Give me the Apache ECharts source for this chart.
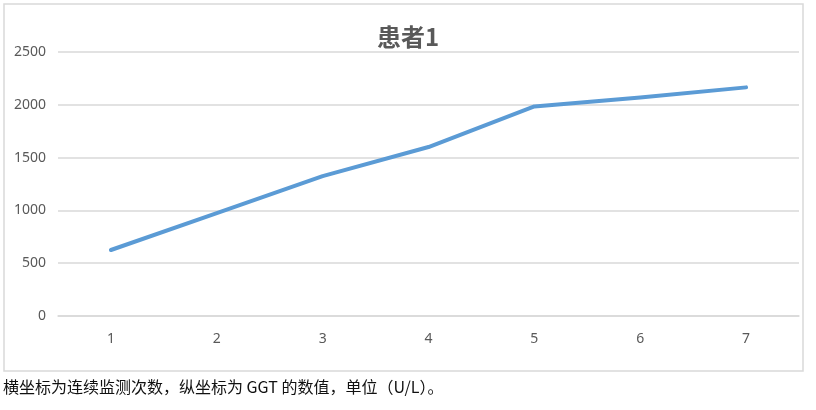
<!DOCTYPE html>
<html><head><meta charset="utf-8">
<script src="https://cdn.jsdelivr.net/npm/echarts@6/dist/echarts.min.js"></script>
<style>html,body{margin:0;padding:0;background:#fff}#c{width:816px;height:410px}</style>
</head><body><div id="c"></div>
<script>
const categories = ['1','2','3','4','5','6','7'];
const values = [625, 975, 1325, 1600, 1985, 2070, 2165];
const titleText = '患者1';
const captionText = '横坐标为连续监测次数，纵坐标为 GGT 的数值，单位（U/L）。';

const chart = echarts.init(document.getElementById('c'));
chart.setOption({
  animation: false,
  backgroundColor: '#fff',
  title: {
    text: titleText, left: 403, top: 20, textAlign: 'center',
    textStyle: {fontFamily: 'Noto Sans CJK SC', fontSize: 24, fontWeight: 'bold', color: '#595959'}
  },
  grid: {left: 58, right: 17, top: 52, bottom: 94},
  xAxis: {
    type: 'category', data: categories, boundaryGap: true,
    axisLine: {lineStyle: {color: '#d9d9d9', width: 1.5}},
    axisTick: {show: false},
    axisLabel: {color: '#595959', fontSize: 14, margin: 16, fontFamily: 'Noto Sans'}
  },
  yAxis: {
    type: 'value', min: 0, max: 2500, interval: 500,
    axisLine: {show: false}, axisTick: {show: false},
    splitLine: {lineStyle: {color: '#d9d9d9', width: 1.5}},
    axisLabel: {color: '#595959', fontSize: 14, margin: 12, fontFamily: 'Noto Sans', formatter: v => String(v)}
  },
  series: [{
    type: 'line', data: values, symbol: 'none',
    lineStyle: {color: '#5b9bd5', width: 4, cap: 'round', join: 'round'}
  }],
  graphic: [
    {type: 'rect', shape: {x: 4, y: 4, width: 799, height: 367}, style: {fill: 'none', stroke: '#d9d9d9', lineWidth: 1.5}, z: -1},
    {type: 'text', left: 3, top: 379, style: {text: captionText, fill: '#111', fontSize: 16, fontFamily: 'Noto Sans CJK SC'}}
  ]
});
</script></body></html>
